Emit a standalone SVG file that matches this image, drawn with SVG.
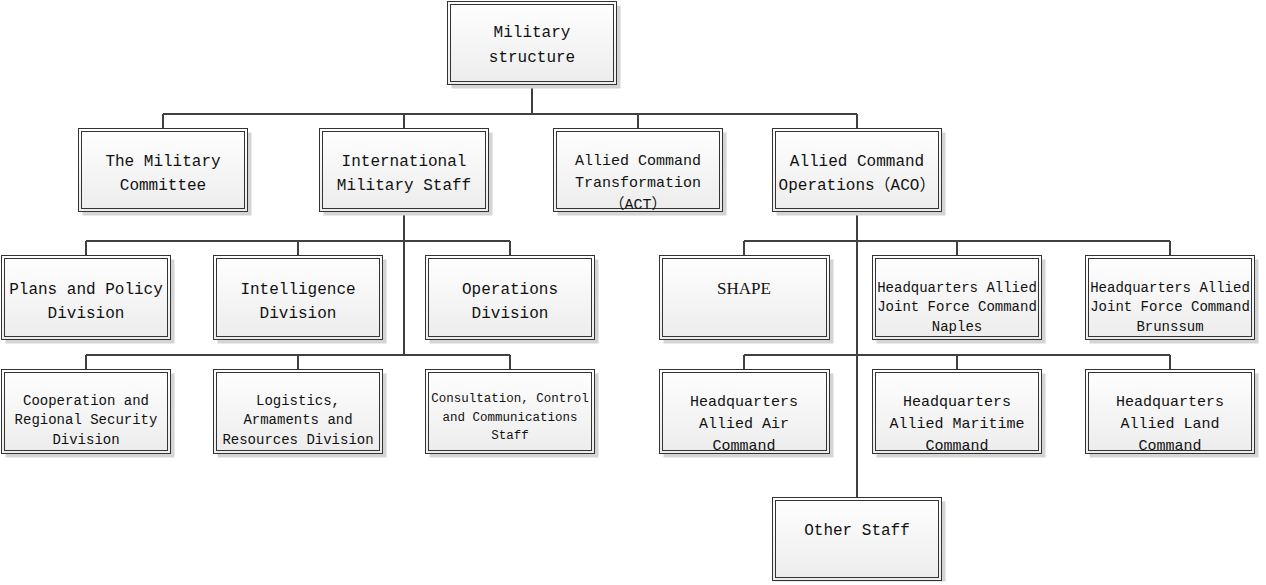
<svg xmlns="http://www.w3.org/2000/svg" width="1266" height="585" viewBox="0 0 1266 585">
<defs>
<linearGradient id="g" x1="0" y1="0" x2="0" y2="1">
<stop offset="0" stop-color="#ffffff"/>
<stop offset="1" stop-color="#ececec"/>
</linearGradient>
<style>
.sh{fill:#d4d4d4}
.ob{fill:url(#g);stroke:#333;stroke-width:1}
.ib{fill:none;stroke:#333;stroke-width:1}
.t{font-family:"Liberation Mono","Noto Sans CJK SC",monospace;fill:#111;text-anchor:middle}
.s16{font-size:16px}
.s15{font-size:15px}
.s14{font-size:14px}
.s12{font-size:12.5px}
.serif{font-family:"Liberation Serif",serif;font-size:17px;fill:#111;text-anchor:middle}
.c{fill:none;stroke:#404040;stroke-width:2}
</style>
</defs>
<rect width="1266" height="585" fill="#fff"/>
<g id="connectors">
<path class="c" d="M532 84V114M163 114H857M163 114V128M404 114V128M638 114V128M857 114V128"/>
<path class="c" d="M404 212V355M86 241H510M86 241V255M298 241V255M510 241V255M86 355H510M86 355V369M298 355V369M510 355V369"/>
<path class="c" d="M857 212V497M744 241H1170M744 241V255M957 241V255M1170 241V255M744 355H1170M744 355V369M957 355V369M1170 355V369"/>
</g>
<g id="ms"><rect class="sh" x="451.5" y="5.5" width="169" height="83"/><rect class="ob" x="447.5" y="1.5" width="169" height="83"/><rect class="ib" x="450.5" y="4.5" width="163" height="77"/>
<text class="t s16" x="532" y="37">Military</text><text class="t s16" x="532" y="62">structure</text></g>
<g id="tmc"><rect class="sh" x="82.5" y="132.5" width="169" height="83"/><rect class="ob" x="78.5" y="128.5" width="169" height="83"/><rect class="ib" x="81.5" y="131.5" width="163" height="77"/>
<text class="t s16" x="163" y="166">The Military</text><text class="t s16" x="163" y="190">Committee</text></g>
<g id="ims"><rect class="sh" x="323.5" y="132.5" width="169" height="83"/><rect class="ob" x="319.5" y="128.5" width="169" height="83"/><rect class="ib" x="322.5" y="131.5" width="163" height="77"/>
<text class="t s16" x="404" y="166">International</text><text class="t s16" x="404" y="190">Military Staff</text></g>
<g id="act"><rect class="sh" x="557.5" y="132.5" width="169" height="83"/><rect class="ob" x="553.5" y="128.5" width="169" height="83"/><rect class="ib" x="556.5" y="131.5" width="163" height="77"/>
<text class="t s15" x="638" y="165">Allied Command</text><text class="t s15" x="638" y="187">Transformation</text><text class="t s15" x="638" y="209">（ACT）</text></g>
<g id="aco"><rect class="sh" x="776.5" y="132.5" width="169" height="83"/><rect class="ob" x="772.5" y="128.5" width="169" height="83"/><rect class="ib" x="775.5" y="131.5" width="163" height="77"/>
<text class="t s16" x="857" y="166">Allied Command</text><text class="t s16" x="857" y="190">Operations（ACO）</text></g>
<g id="ppd"><rect class="sh" x="5.5" y="259.5" width="169" height="84"/><rect class="ob" x="1.5" y="255.5" width="169" height="84"/><rect class="ib" x="4.5" y="258.5" width="163" height="78"/>
<text class="t s16" x="86" y="294">Plans and Policy</text><text class="t s16" x="86" y="318">Division</text></g>
<g id="intel"><rect class="sh" x="217.5" y="259.5" width="169" height="84"/><rect class="ob" x="213.5" y="255.5" width="169" height="84"/><rect class="ib" x="216.5" y="258.5" width="163" height="78"/>
<text class="t s16" x="298" y="294">Intelligence</text><text class="t s16" x="298" y="318">Division</text></g>
<g id="ops"><rect class="sh" x="429.5" y="259.5" width="169" height="84"/><rect class="ob" x="425.5" y="255.5" width="169" height="84"/><rect class="ib" x="428.5" y="258.5" width="163" height="78"/>
<text class="t s16" x="510" y="294">Operations</text><text class="t s16" x="510" y="318">Division</text></g>
<g id="shape"><rect class="sh" x="663.5" y="259.5" width="170" height="84"/><rect class="ob" x="659.5" y="255.5" width="170" height="84"/><rect class="ib" x="662.5" y="258.5" width="164" height="78"/>
<text class="serif" x="744" y="294">SHAPE</text></g>
<g id="naples"><rect class="sh" x="876.5" y="259.5" width="169" height="84"/><rect class="ob" x="872.5" y="255.5" width="169" height="84"/><rect class="ib" x="875.5" y="258.5" width="163" height="78"/>
<text class="t s14" x="957" y="292">Headquarters Allied</text><text class="t s14" x="957" y="311">Joint Force Command</text><text class="t s14" x="957" y="331">Naples</text></g>
<g id="brunssum"><rect class="sh" x="1089.5" y="259.5" width="169" height="84"/><rect class="ob" x="1085.5" y="255.5" width="169" height="84"/><rect class="ib" x="1088.5" y="258.5" width="163" height="78"/>
<text class="t s14" x="1170" y="292">Headquarters Allied</text><text class="t s14" x="1170" y="311">Joint Force Command</text><text class="t s14" x="1170" y="331">Brunssum</text></g>
<g id="coop"><rect class="sh" x="5.5" y="373.5" width="169" height="84"/><rect class="ob" x="1.5" y="369.5" width="169" height="84"/><rect class="ib" x="4.5" y="372.5" width="163" height="78"/>
<text class="t s14" x="86" y="405">Cooperation and</text><text class="t s14" x="86" y="424">Regional Security</text><text class="t s14" x="86" y="444">Division</text></g>
<g id="log"><rect class="sh" x="217.5" y="373.5" width="169" height="84"/><rect class="ob" x="213.5" y="369.5" width="169" height="84"/><rect class="ib" x="216.5" y="372.5" width="163" height="78"/>
<text class="t s14" x="298" y="405">Logistics,</text><text class="t s14" x="298" y="424">Armaments and</text><text class="t s14" x="298" y="444">Resources Division</text></g>
<g id="ccc"><rect class="sh" x="429.5" y="373.5" width="169" height="84"/><rect class="ob" x="425.5" y="369.5" width="169" height="84"/><rect class="ib" x="428.5" y="372.5" width="163" height="78"/>
<text class="t s12" x="510" y="402">Consultation, Control</text><text class="t s12" x="510" y="421">and Communications</text><text class="t s12" x="510" y="439">Staff</text></g>
<g id="air"><rect class="sh" x="663.5" y="373.5" width="170" height="84"/><rect class="ob" x="659.5" y="369.5" width="170" height="84"/><rect class="ib" x="662.5" y="372.5" width="164" height="78"/>
<text class="t s15" x="744" y="406">Headquarters</text><text class="t s15" x="744" y="428">Allied Air</text><text class="t s15" x="744" y="450">Command</text></g>
<g id="mar"><rect class="sh" x="876.5" y="373.5" width="169" height="84"/><rect class="ob" x="872.5" y="369.5" width="169" height="84"/><rect class="ib" x="875.5" y="372.5" width="163" height="78"/>
<text class="t s15" x="957" y="406">Headquarters</text><text class="t s15" x="957" y="428">Allied Maritime</text><text class="t s15" x="957" y="450">Command</text></g>
<g id="land"><rect class="sh" x="1089.5" y="373.5" width="169" height="84"/><rect class="ob" x="1085.5" y="369.5" width="169" height="84"/><rect class="ib" x="1088.5" y="372.5" width="163" height="78"/>
<text class="t s15" x="1170" y="406">Headquarters</text><text class="t s15" x="1170" y="428">Allied Land</text><text class="t s15" x="1170" y="450">Command</text></g>
<g id="other"><rect class="sh" x="776.5" y="501.5" width="169" height="80"/><rect class="ob" x="772.5" y="497.5" width="169" height="83"/><rect class="ib" x="775.5" y="500.5" width="163" height="77"/>
<text class="t s16" x="857" y="535">Other Staff</text></g>
</svg>
